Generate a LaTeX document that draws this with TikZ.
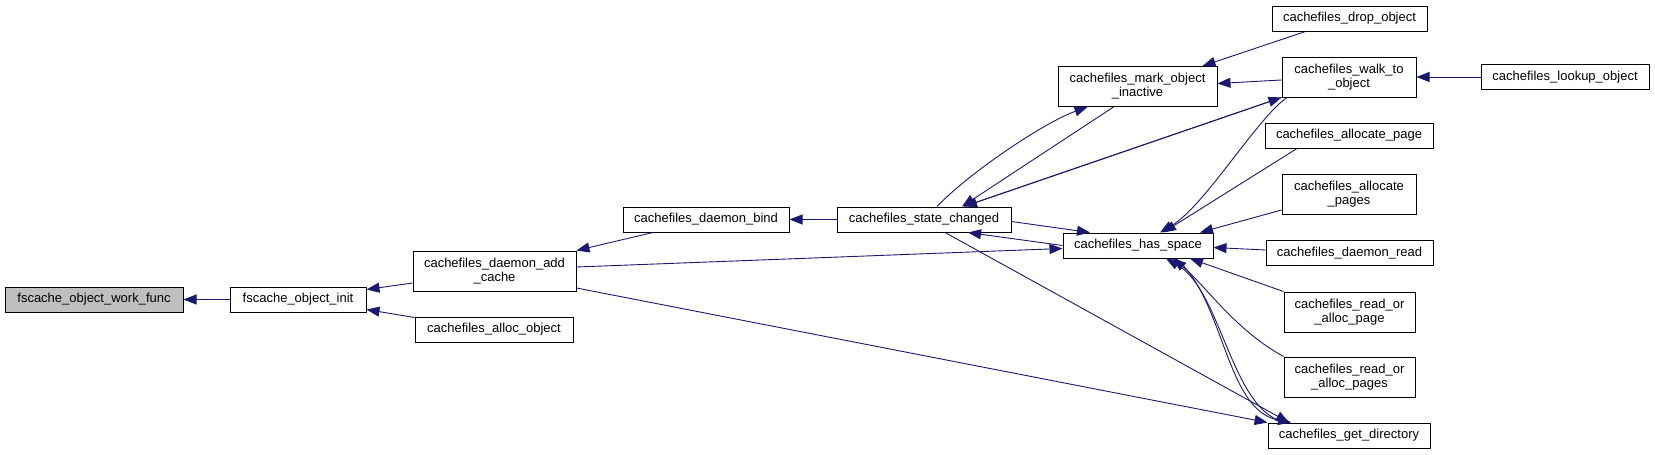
\documentclass[tikz,border=0pt]{standalone}
\usepackage{fontspec}
\usetikzlibrary{arrows.meta}
\newfontfamily\graphfont{Liberation Sans}

\begin{document}
\begin{tikzpicture}[x=1pt, y=-1pt]

% =======================================================
% Color definitions
% =======================================================
\definecolor{edgeblue}{HTML}{191970}   % call edges
\definecolor{rootgray}{HTML}{BFBFBF}   % root function

% =======================================================
% Styles
% =======================================================
\tikzset{
  fn/.style   = {draw=black, fill=white, line width=1pt, minimum height=25pt,
                 inner sep=0pt, align=center,
                 font=\graphfont\fontsize{13}{14}\selectfont},
  fntwo/.style = {fn, minimum height=40pt},
  root/.style = {fn, fill=rootgray},
  call/.style = {edgeblue, line width=0.9pt, {Triangle[length=13pt,width=10pt]}-},
}

% canvas
\path[fill=white] (0,0) rectangle (1655,455);
\useasboundingbox (0,0) rectangle (1655,455);

% =======================================================
% Nodes (left to right)
% =======================================================
\node[root, minimum width=178pt] (wf)   at (94,299.5)   {fscache\_object\_work\_func};
\node[fn,   minimum width=136pt] (init) at (298,299.5)  {fscache\_object\_init};

\node[fntwo, minimum width=163pt] (addcache) at (494.5,271) {cachefiles\_daemon\_add\\\_cache};
\node[fn,    minimum width=158pt] (allocobj) at (494,329.5) {cachefiles\_alloc\_object};

\node[fn, minimum width=166pt] (bind)  at (706,219.5) {cachefiles\_daemon\_bind};
\node[fn, minimum width=174pt] (state) at (924,219.5) {cachefiles\_state\_changed};

\node[fntwo, minimum width=159pt] (inactive) at (1137.5,86.5) {cachefiles\_mark\_object\\\_inactive};
\node[fn,    minimum width=150pt] (hasspace) at (1138,245.5)  {cachefiles\_has\_space};

% right column
\node[fn,    minimum width=155pt] (drop)       at (1349.5,18.5) {cachefiles\_drop\_object};
\node[fntwo, minimum width=134pt] (walk)       at (1349,77)     {cachefiles\_walk\_to\\\_object};
\node[fn,    minimum width=168pt] (allocpage)  at (1349,135.5)  {cachefiles\_allocate\_page};
\node[fntwo, minimum width=134pt] (allocpages) at (1349,194)    {cachefiles\_allocate\\\_pages};
\node[fn,    minimum width=167pt] (daemonread) at (1349.5,253)  {cachefiles\_daemon\_read};
\node[fntwo, minimum width=131pt] (rdpage)     at (1349.5,312)  {cachefiles\_read\_or\\\_alloc\_page};
\node[fntwo, minimum width=131pt] (rdpages)    at (1349.5,377)  {cachefiles\_read\_or\\\_alloc\_pages};
\node[fn,    minimum width=162pt] (getdir)     at (1349,435.5)  {cachefiles\_get\_directory};

\node[fn, minimum width=168pt] (lookup) at (1565,77) {cachefiles\_lookup\_object};

% =======================================================
% Call edges (tip at the called function)
% =======================================================
\draw[call] (wf) -- (init);
\draw[call] ([yshift=10pt]init.east)  -- ([yshift=-12pt]addcache.west);
\draw[call] ([yshift=-10pt]init.east) -- ([yshift=12pt]allocobj.west);
\draw[call] (addcache.north east) -- ([xshift=-53pt]bind.south);
\draw[call] (bind) -- (state);

% state <-> inactive
\draw[call] ([xshift=38pt]state.north) -- ([xshift=-24pt]inactive.south);
\draw[call] ([xshift=-50pt]inactive.south)
    .. controls (1045,122) and (970,172) .. ([xshift=13pt]state.north);
\draw[call] ([xshift=65pt]inactive.north) -- ([xshift=-44pt]drop.south);
\draw[call] ([yshift=3pt]inactive.east) -- ([yshift=-3pt]walk.west);
\draw[call] (walk) -- (lookup);

% state <-> walk
\draw[call] ([xshift=40pt]state.north) -- (walk.south west);
\draw[call] (walk.south west) -- ([xshift=40pt]state.north);

% state <-> has_space
\draw[call] ([xshift=-48pt]hasspace.north) -- ([yshift=-2pt]state.east);
\draw[call] ([xshift=44pt]state.south) -- (hasspace.west);
\draw[call] ([yshift=-3pt]hasspace.west) -- ([yshift=4pt]addcache.east);

% into has_space from the right column
\draw[call] ([xshift=22pt]hasspace.north)
    .. controls (1205,206) and (1257,118) .. ([xshift=-62pt]walk.south);
\draw[call] ([xshift=25pt]hasspace.north) -- ([xshift=-52pt]allocpage.south);
\draw[call] ([xshift=62pt]hasspace.north) -- ([yshift=-16pt]allocpages.west);
\draw[call] ([yshift=-2pt]hasspace.east) -- ([yshift=3pt]daemonread.west);
\draw[call] ([xshift=52pt]hasspace.south) -- (rdpage.north west);
\draw[call] ([xshift=35pt]hasspace.south)
    .. controls (1205,285) and (1235,330) .. (rdpages.north west);

% get_directory
\draw[call] (getdir.north west) -- ([yshift=-17pt]addcache.east);
\draw[call] ([xshift=-60pt]getdir.north) -- ([xshift=21pt]state.south);
\draw[call] ([xshift=-58pt]getdir.north)
    .. controls (1225,410) and (1225,300) .. ([xshift=38pt]hasspace.south);
\draw[call] ([xshift=28pt]hasspace.south)
    .. controls (1222,290) and (1232,415) .. ([xshift=-62pt]getdir.north);

\end{tikzpicture}
\end{document}
